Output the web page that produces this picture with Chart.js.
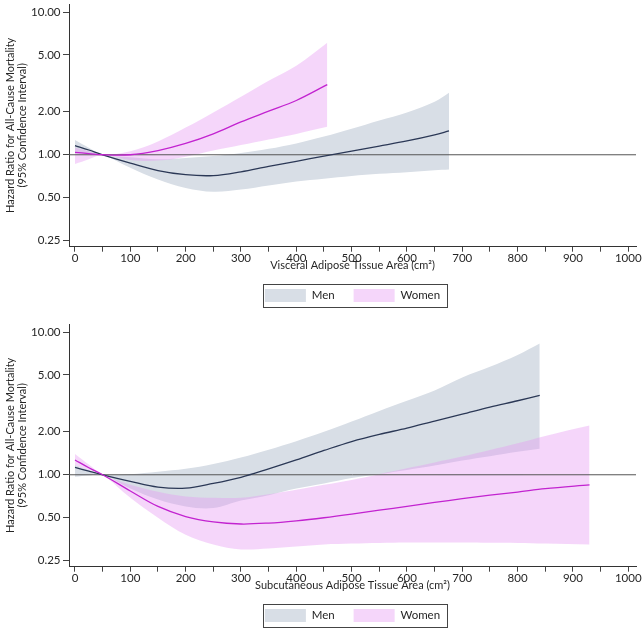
<!DOCTYPE html>
<html>
<head>
<meta charset="utf-8">
<script src="https://cdn.jsdelivr.net/npm/chart.js@4.4.1/dist/chart.umd.min.js"></script>
<style>
  html, body { margin: 0; padding: 0; background: #fff; overflow: hidden; width: 643px; height: 628px; }
  .panel { position: absolute; left: 0; width: 643px; height: 312px; }
  #p1 { top: 0; }
  #p2 { top: 320px; }
</style>
</head>
<body>
<div class="panel" id="p1"><canvas id="c1" width="643" height="312"></canvas></div>
<div class="panel" id="p2"><canvas id="c2" width="643" height="312"></canvas></div>
<script>
// ---------- Data ----------
const yTicks = [0.25, 0.5, 1, 2, 5, 10];
const yTickLabels = ['0.25', '0.50', '1.00', '2.00', '5.00', '10.00'];
const xTicks = [0, 50, 100, 150, 200, 250, 300, 350, 400, 450, 500, 550, 600, 650, 700, 750, 800, 850, 900, 950, 1000];
const legendNames = ['Men', 'Women'];
const yTitle = ['Hazard Ratio for All-Cause Mortality', '(95% Confidence Interval)'];
const vatTitle = 'Visceral Adipose Tissue Area (cm\u00B2)';
const satTitle = 'Subcutaneous Adipose Tissue Area (cm\u00B2)';

// Visceral adipose tissue - Men
const vatMenX  = [0, 25, 50, 100, 150, 200, 250, 300, 350, 400, 450, 500, 550, 600, 650, 676];
const vatMenHR = [1.16, 1.08, 1.0, 0.875, 0.775, 0.725, 0.715, 0.76, 0.83, 0.90, 0.98, 1.06, 1.15, 1.25, 1.38, 1.47];
const vatMenLo = [1.02, 1.01, 1.0, 0.81, 0.67, 0.585, 0.55, 0.57, 0.61, 0.65, 0.68, 0.71, 0.735, 0.755, 0.78, 0.79];
const vatMenHi = [1.27, 1.12, 1.0, 0.96, 0.93, 0.95, 0.98, 1.03, 1.1, 1.2, 1.34, 1.52, 1.74, 1.98, 2.35, 2.72];

// Visceral adipose tissue - Women
const vatWomenX  = [0, 25, 50, 100, 150, 200, 250, 300, 350, 400, 456];
const vatWomenHR = [1.04, 1.02, 1.0, 1.0, 1.07, 1.2, 1.4, 1.7, 2.02, 2.4, 3.1];
const vatWomenLo = [0.86, 0.93, 1.0, 0.92, 0.91, 0.97, 1.07, 1.17, 1.28, 1.4, 1.57];
const vatWomenHi = [1.12, 1.06, 1.0, 1.06, 1.24, 1.55, 1.98, 2.55, 3.3, 4.2, 6.1];

// Subcutaneous adipose tissue - Men
const satMenX  = [0, 25, 50, 100, 150, 200, 250, 300, 350, 400, 450, 500, 550, 600, 650, 700, 750, 800, 840];
const satMenHR = [1.125, 1.06, 1.0, 0.9, 0.82, 0.805, 0.87, 0.96, 1.1, 1.27, 1.48, 1.71, 1.92, 2.12, 2.38, 2.66, 2.98, 3.3, 3.6];
const satMenLo = [0.97, 0.99, 1.0, 0.8, 0.67, 0.6, 0.585, 0.66, 0.72, 0.8, 0.87, 0.95, 1.01, 1.08, 1.16, 1.26, 1.35, 1.45, 1.52];
const satMenHi = [1.17, 1.08, 1.0, 1.01, 1.05, 1.1, 1.19, 1.32, 1.5, 1.72, 2.0, 2.36, 2.8, 3.3, 3.9, 4.8, 5.7, 6.9, 8.3];

// Subcutaneous adipose tissue - Women
const satWomenX  = [0, 25, 50, 100, 150, 200, 250, 300, 350, 400, 450, 500, 550, 600, 650, 700, 750, 800, 850, 930];
const satWomenHR = [1.27, 1.12, 1.0, 0.77, 0.6, 0.51, 0.467, 0.452, 0.459, 0.476, 0.5, 0.53, 0.565, 0.6, 0.64, 0.68, 0.72, 0.757, 0.8, 0.85];
const satWomenLo = [1.17, 1.08, 1.0, 0.69, 0.5, 0.38, 0.325, 0.30, 0.305, 0.315, 0.325, 0.33, 0.333, 0.335, 0.335, 0.335, 0.334, 0.333, 0.33, 0.325];
const satWomenHi = [1.4, 1.18, 1.0, 0.85, 0.76, 0.705, 0.69, 0.69, 0.73, 0.785, 0.85, 0.92, 1.01, 1.11, 1.22, 1.34, 1.49, 1.66, 1.87, 2.21];

// ---------- Styling ----------
const X_MIN = -10.84, X_MAX = 1014;
const Y_MIN = 0.227, Y_MAX = 11.38;
const MEN_BAND = 'rgb(216,222,230)';
const WOMEN_BAND = 'rgba(230,152,242,0.40)';
const MEN_LINE = '#2b3856';
const WOMEN_LINE = '#c223d0';
const FONT = 'Lato, "Open Sans", sans-serif';
const TEXT = '#262626';

function pts(xs, ys) { return xs.map((x, i) => ({x: x, y: ys[i]})); }

const legendBorder = {
  id: 'legendBorder',
  afterDraw(chart) {
    const boxes = chart.legend && chart.legend.legendHitBoxes;
    if (!boxes || !boxes.length) return;
    const first = boxes[0], last = boxes[boxes.length - 1];
    const ctx = chart.ctx;
    const l = Math.round(first.left - 2) + 0.5;
    const r = Math.round(last.left + last.width + 7) + 0.5;
    const t = Math.round(first.top - 5) + 0.5;
    const b = Math.round(first.top + first.height + 5) + 0.5;
    ctx.save();
    ctx.strokeStyle = '#444';
    ctx.lineWidth = 1;
    ctx.strokeRect(l, t, r - l, b - t);
    ctx.restore();
  }
};

function makeChart(id, xTitle, men, women) {
  const lineCommon = { pointRadius: 0, tension: 0.35 };
  const datasets = [
    Object.assign({ label: legendNames[0], data: pts(men.x, men.hi), backgroundColor: MEN_BAND, borderWidth: 0, borderColor: 'rgba(0,0,0,0)', fill: '+1', order: 6, isBand: true }, lineCommon),
    Object.assign({ label: 'men-lo', data: pts(men.x, men.lo), borderWidth: 0, borderColor: 'rgba(0,0,0,0)', fill: false, order: 6 }, lineCommon),
    Object.assign({ label: legendNames[1], data: pts(women.x, women.hi), backgroundColor: WOMEN_BAND, borderWidth: 0, borderColor: 'rgba(0,0,0,0)', fill: '+1', order: 5, isBand: true }, lineCommon),
    Object.assign({ label: 'women-lo', data: pts(women.x, women.lo), borderWidth: 0, borderColor: 'rgba(0,0,0,0)', fill: false, order: 5 }, lineCommon),
    { label: 'ref', data: [{x: X_MIN, y: 1}, {x: X_MAX, y: 1}], borderColor: '#555', borderWidth: 1, pointRadius: 0, fill: false, order: 4 },
    Object.assign({ label: 'men-hr', data: pts(men.x, men.hr), borderColor: MEN_LINE, borderWidth: 1.3, fill: false, order: 3 }, lineCommon),
    Object.assign({ label: 'women-hr', data: pts(women.x, women.hr), borderColor: WOMEN_LINE, borderWidth: 1.3, fill: false, order: 2 }, lineCommon)
  ];

  return new Chart(document.getElementById(id), {
    type: 'line',
    data: { datasets: datasets },
    plugins: [legendBorder],
    options: {
      responsive: false,
      animation: false,
      events: [],
      layout: { autoPadding: false, padding: { top: 4, right: 7, left: 0, bottom: 0 } },
      plugins: {
        tooltip: { enabled: false },
        filler: { propagate: false },
        legend: {
          display: true,
          position: 'bottom',
          fullSize: false,
          align: 'center',
          labels: {
            boxWidth: 41,
            boxHeight: 13,
            padding: 19,
            color: TEXT,
            font: { family: FONT, size: 11.5 },
            filter: (item, data) => !!data.datasets[item.datasetIndex].isBand,
            generateLabels: (chart) => chart.data.datasets.map((ds, i) => ({
              text: ds.label,
              fillStyle: ds.backgroundColor,
              strokeStyle: 'rgba(0,0,0,0)',
              lineWidth: 0,
              fontColor: TEXT,
              hidden: false,
              datasetIndex: i
            }))
          }
        }
      },
      scales: {
        x: {
          type: 'linear',
          min: X_MIN,
          max: X_MAX,
          afterBuildTicks: (scale) => { scale.ticks = xTicks.map(v => ({ value: v })); },
          afterFit: (scale) => { scale.height = 23.3; scale.paddingLeft = 0; scale.paddingRight = 0; },
          grid: { display: true, drawOnChartArea: false, drawTicks: true, tickLength: 5, color: '#444', lineWidth: 1 },
          border: { display: true, color: '#333', width: 1 },
          ticks: {
            autoSkip: false,
            maxRotation: 0,
            padding: 0,
            color: TEXT,
            font: { family: FONT, size: 11.5 },
            callback: (v) => (v % 100 === 0 ? String(v) : '')
          },
          title: {
            display: true,
            text: xTitle,
            color: TEXT,
            font: { family: FONT, size: 11, lineHeight: 1.1 },
            padding: { top: 0, bottom: -2 }
          }
        },
        y: {
          type: 'logarithmic',
          min: Y_MIN,
          max: Y_MAX,
          afterBuildTicks: (scale) => { scale.ticks = yTicks.map(v => ({ value: v })); },
          afterFit: (scale) => { scale.width = 69; scale.paddingTop = 0; scale.paddingBottom = 0; },
          grid: { display: true, drawOnChartArea: false, drawTicks: true, tickLength: 6, color: '#444', lineWidth: 1 },
          border: { display: true, color: '#333', width: 1 },
          ticks: {
            autoSkip: false,
            padding: 2.5,
            color: TEXT,
            font: { family: FONT, size: 11.5, lineHeight: 0.2 },
            callback: (v, i) => yTickLabels[i]
          },
          title: {
            display: true,
            text: yTitle,
            color: TEXT,
            font: { family: FONT, size: 11, lineHeight: 1.1 },
            padding: { top: 4, bottom: 0 }
          }
        }
      }
    }
  });
}

makeChart('c1', vatTitle,
  { x: vatMenX, hr: vatMenHR, lo: vatMenLo, hi: vatMenHi },
  { x: vatWomenX, hr: vatWomenHR, lo: vatWomenLo, hi: vatWomenHi });
makeChart('c2', satTitle,
  { x: satMenX, hr: satMenHR, lo: satMenLo, hi: satMenHi },
  { x: satWomenX, hr: satWomenHR, lo: satWomenLo, hi: satWomenHi });
</script>
</body>
</html>
